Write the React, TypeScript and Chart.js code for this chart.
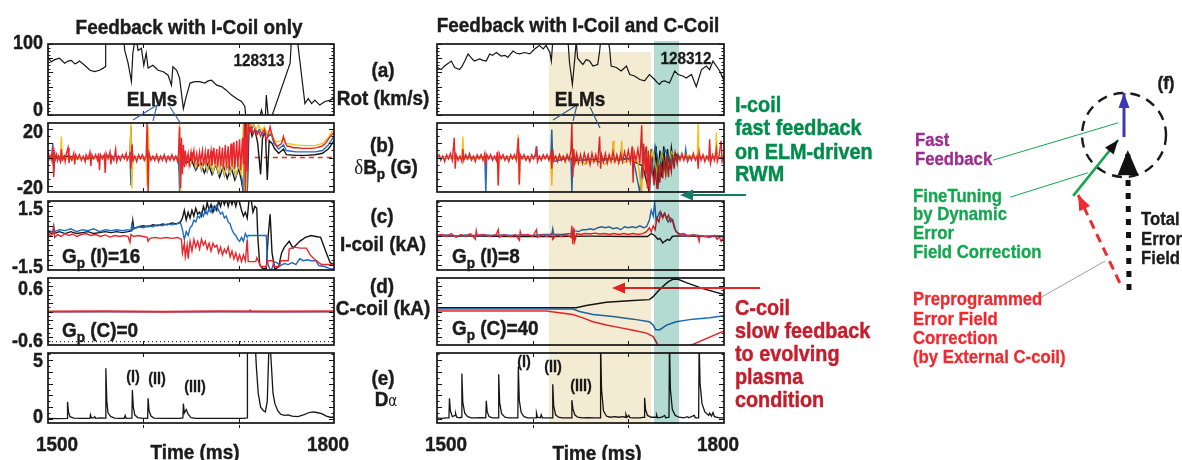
import React, { useEffect, useRef } from "react";
import { Chart, registerables } from "chart.js";

Chart.register(...registerables);

type Pt = [number, number];

// ---------- time axis ----------
const timeMin = 1500;
const timeMax = 1800;
const timeMajorTicks = [1600, 1700];
const timeTickLabels = ["1500", "1800"];
const timeAxisTitle = "Time (ms)";

// ---------- (a) rotation, km/s ----------
const rot128313: Pt[] = [
  [1500, 81], [1503.5, 75], [1507, 78], [1512, 80], [1517.5, 73], [1521, 76], [1524.5, 77], [1528, 72], [1530, 73],
  [1533, 76], [1538.5, 70], [1544, 63], [1549, 61], [1554, 63], [1558, 66], [1560, 68], [1560.5, 98], [1561, 112],
  [1579, 112], [1580.5, 91], [1584, 73], [1587.5, 47], [1589, 87], [1591, 104], [1593, 104], [1594.5, 91], [1598, 94],
  [1600.5, 70], [1603, 87], [1605, 66], [1610, 70], [1615.5, 63], [1621, 61], [1626, 56], [1629.5, 42], [1631, 68],
  [1635, 63], [1638, 52], [1642, 9], [1645, 26], [1649, 45], [1654, 47], [1659, 47], [1664.5, 45], [1668, 48],
  [1671.5, 49], [1677, 42], [1682, 40], [1687, 35], [1692.5, 28], [1698, 23], [1703, 19], [1706.5, 12], [1707.5, -3],
  [1722, -3], [1724, 7], [1725.5, -3], [1728, -3], [1729, 28], [1731, -3], [1734.5, -3], [1754, 73], [1755.5, 112],
  [1761, 112], [1769.5, 16], [1773, 23], [1776.5, 16], [1780, 21], [1785, 14], [1790.5, 19], [1796, 21], [1799, 23], [1800, 20],
];
const rot128312: Pt[] = [
  [1500, 67], [1504.5, 64], [1507, 68], [1510, 71], [1515, 76], [1518.5, 67], [1523.5, 64], [1526, 68], [1529, 76],
  [1532.5, 86], [1536, 80], [1539, 76], [1544.5, 79], [1548, 77], [1551.5, 76], [1555, 86], [1558, 84], [1562, 88],
  [1567, 83], [1571, 84], [1574, 81], [1579.5, 90], [1583, 87], [1586.5, 86], [1591.5, 88], [1597, 86], [1602, 93],
  [1607, 98], [1611, 93], [1614, 98], [1618, 88], [1619.5, 76], [1621, 104], [1637, 104], [1638.5, 74], [1641.5, 43],
  [1644, 79], [1645.5, 104], [1647, 80], [1650, 75], [1652.5, 71], [1656, 78], [1659.5, 76], [1663, 69], [1668, 71],
  [1670, 90], [1671, 104], [1679, 104], [1680.5, 93], [1682, 69], [1687.5, 67], [1692.5, 62], [1698, 69], [1701.5, 57],
  [1706.5, 55], [1712, 50], [1717, 48], [1722, 57], [1727.5, 50], [1730, 46], [1732.5, 43], [1735, 47], [1738, 48],
  [1743, 45], [1748.5, 62], [1752, 57], [1757, 55], [1760.5, 52], [1766, 57], [1771, 40], [1776.5, 64], [1781.5, 69],
  [1785, 64], [1788.5, 76], [1792, 69], [1795.5, 62], [1799.5, 50], [1800, 52],
];

// ---------- (b) dBp, G : shot 128313 ----------
const dBpRedL: Pt[] = [
  [1500, 0], [1501, 2], [1502, -1], [1503, 1], [1504, -2], [1505, 8], [1506, -14], [1507, 3], [1508, -1], [1509, 2],
  [1510, -2], [1511, 1], [1513, -3], [1514, 6], [1515, -2], [1517, 1], [1518, -3], [1519, 2], [1521, 7], [1522, -4],
  [1523, 1], [1525, -2], [1527, 3], [1528, -5], [1529, 2], [1531, -1], [1533, 2], [1535, -2], [1537, 1], [1539, -3],
  [1540, 2], [1542, -1], [1544, 4], [1545, -6], [1546, 2], [1548, -1], [1550, 2], [1552, -2], [1553, 3], [1554, -9],
  [1555, 2], [1557, -1], [1559, 2], [1560, -11], [1561, 3], [1563, -1], [1565, 4], [1566, -5], [1567, 1], [1569, -2],
  [1571, 6], [1572, -3], [1574, 1], [1576, -2], [1578, 2], [1580, -1], [1582, 3], [1583, -2], [1585, 1], [1586, 4],
  [1587, -8], [1588, 9], [1589, -2], [1591, 1], [1593, -3], [1595, 2], [1597, -1], [1599, 2], [1601, -2], [1603, 1],
  [1604, 26], [1605, -26], [1606, 3], [1608, -2], [1610, 1], [1612, -2], [1614, 2], [1616, -3], [1618, 1], [1620, -2],
  [1622, 2], [1624, -3], [1626, 1], [1628, -2], [1630, 2], [1632, -2], [1634, 1], [1636, -3], [1637, 4], [1638, 22],
  [1639, -22], [1640, 14], [1641, -12], [1642, 9], [1643, -7], [1644, 5], [1645, -4], [1647, 3], [1648, -5], [1650, 4],
  [1651, -3], [1653, 5], [1654, -4], [1656, 3], [1657, -5], [1659, 4], [1660, -3], [1662, 5], [1663, -6], [1665, 4],
  [1666, -5], [1668, 6], [1669, -4], [1671, 5], [1672, -6], [1674, 7], [1675, -5], [1677, 6], [1678, -7], [1680, 8],
  [1681, -6], [1683, 7], [1684, -8], [1686, 9], [1687, -7], [1689, 8], [1690, -9], [1692, 10], [1693, -6], [1695, 11],
  [1696, -8], [1698, 12], [1699, -7], [1701, 13], [1702, -9], [1704, 14], [1705, -5], [1706, 25], [1707, -25],
  [1708, 25], [1709, -10], [1710, 25], [1711, 18], [1713, 22], [1715, 17], [1717, 20], [1719, 16], [1721, 19],
  [1723, 15], [1725, 18], [1727, 20], [1729, 12], [1731, 16], [1733, 22], [1735, 16], [1737, 12], [1739, 9], [1741, 8],
  [1743, 9], [1745, 10], [1747, 15], [1749, 10], [1751, 8], [1753, 8], [1757, 7], [1762, 7], [1767, 6.5], [1772, 6.5],
  [1777, 6.5], [1782, 7], [1787, 8], [1791, 10], [1795, 14], [1800, 18],
];
const dBpYellowL: Pt[] = [
  [1500, 0], [1513, 0], [1514, 15], [1515, -1], [1540, 0], [1586, 0], [1587, 25], [1588, -22], [1589, 0], [1603, 0],
  [1604, -20], [1605, 22], [1606, 0], [1637, 0], [1638, 25], [1639, -25], [1640, 0], [1643, -3], [1646, 1], [1649, -5],
  [1652, 0], [1655, -7], [1658, -1], [1661, -8], [1664, -1], [1667, -9], [1670, -2], [1673, -10], [1676, -3],
  [1679, -11], [1682, -2], [1685, -12], [1688, -4], [1691, -11], [1694, -3], [1697, -13], [1700, -5], [1703, -12],
  [1705, 25], [1706, -25], [1708, -25], [1709, 25], [1712, 22], [1715, 24], [1718, 20], [1721, 23], [1724, 19],
  [1727, 22], [1730, 17], [1733, 20], [1736, 14], [1740, 11], [1745, 12], [1748, 13], [1750, 10], [1760, 9],
  [1770, 8.5], [1780, 8.5], [1788, 10], [1794, 14], [1800, 21],
];
const dBpBlueL: Pt[] = [
  [1500, 0], [1504, 1], [1505, 10], [1506, -10], [1507, 0], [1530, -1], [1560, 1], [1586, 0], [1587, -20], [1588, 10],
  [1589, 0], [1603, 0], [1604, -8], [1605, 5], [1606, 0], [1637, 0], [1638, -24], [1639, 10], [1640, 0], [1643, -4],
  [1646, 1], [1649, -6], [1652, 0], [1655, -8], [1658, -1], [1661, -9], [1664, -2], [1667, -10], [1670, -3],
  [1673, -11], [1676, -4], [1679, -12], [1682, -3], [1685, -13], [1688, -5], [1691, -12], [1694, -4], [1697, -14],
  [1700, -6], [1703, -13], [1705, -25], [1706, 25], [1707, -25], [1709, -25], [1710, 25], [1713, 20], [1716, 23],
  [1719, 18], [1722, 20], [1725, 16], [1728, 19], [1731, 15], [1734, 17], [1737, 10], [1742, 6], [1747, 9], [1750, 5],
  [1760, 4], [1770, 4], [1780, 4], [1788, 5], [1794, 9], [1800, 15],
];
const dBpBlackL: Pt[] = [
  [1500, 0], [1520, 1], [1540, -1], [1560, 1], [1586, 0], [1587, 22], [1588, -5], [1590, 0], [1637, 0], [1638, -10],
  [1640, 0], [1645, -4], [1650, -1], [1655, -9], [1660, -3], [1664, -11], [1668, -4], [1672, -12], [1676, -5],
  [1680, -14], [1684, -6], [1688, -15], [1692, -7], [1696, -16], [1700, -8], [1703, -17], [1705, -25], [1707, 25],
  [1709, -25], [1711, 25], [1714, 15], [1717, 20], [1720, 10], [1723, -12], [1725, 14], [1728, 18], [1730, -16],
  [1732, 12], [1735, 10], [1738, 6], [1742, 3], [1747, 6], [1750, 2], [1760, 1.5], [1770, 1.5], [1780, 2], [1788, 3],
  [1794, 6], [1800, 12],
];
const dBpZeroRef: Pt[] = [[1717, 0], [1800, 0]];

// ---------- (b) dBp, G : shot 128312 ----------
const dBpRedR: Pt[] = [
  [1500, 0], [1502, 2], [1504, -2], [1506, 1], [1508, -3], [1510, 2], [1512, -1], [1514, 3], [1516, -2], [1518, 14],
  [1519, -8], [1520, 2], [1522, -2], [1524, 1], [1526, -3], [1527, 6], [1528, -2], [1530, 2], [1532, -1], [1534, 3],
  [1536, -2], [1538, 1], [1540, -3], [1542, 2], [1544, -1], [1546, 2], [1548, -2], [1550, 3], [1551, -6], [1552, 2],
  [1554, -1], [1556, 2], [1558, -2], [1560, 1], [1562, -2], [1563, 4], [1564, -20], [1565, 3], [1567, -1], [1569, 2],
  [1571, -2], [1573, 1], [1575, -3], [1577, 2], [1579, -1], [1581, 2], [1583, -2], [1585, 14], [1586, -19], [1587, 2],
  [1589, -1], [1591, 2], [1593, -2], [1595, 1], [1597, -3], [1599, 2], [1601, -1], [1603, 3], [1604, 8], [1605, -3],
  [1607, 1], [1609, -2], [1611, 2], [1613, -1], [1615, 2], [1617, -2], [1619, 3], [1620, -8], [1621, 6], [1622, -2],
  [1624, 1], [1626, -3], [1628, 2], [1630, -2], [1632, 1], [1634, -3], [1636, 2], [1638, -2], [1640, 5], [1641, 25],
  [1642, -14], [1643, 6], [1644, -4], [1646, 3], [1648, -4], [1650, 2], [1652, -4], [1654, 3], [1656, -3], [1658, 2],
  [1660, -5], [1662, 3], [1664, -3], [1666, 2], [1668, -4], [1670, 15], [1671, -8], [1672, 2], [1674, -3], [1676, 3],
  [1678, -4], [1680, 2], [1682, -3], [1684, 4], [1686, -3], [1688, 2], [1690, -4], [1692, 3], [1694, -3], [1696, 4],
  [1698, -2], [1700, 5], [1702, -3], [1704, 8], [1705, -18], [1706, 4], [1708, -2], [1710, 6], [1712, -4], [1714, 23],
  [1715, -15], [1716, 10], [1718, -12], [1719, 8], [1720, -22], [1721, 5], [1722, -25], [1723, 2], [1725, -10],
  [1727, -20], [1728, -8], [1730, -22], [1731, -5], [1733, -18], [1734, -4], [1736, -15], [1737, -3], [1739, -12],
  [1740, 1], [1742, -14], [1743, -2], [1745, -10], [1746, 2], [1748, -8], [1749, 3], [1751, -4], [1752, 2], [1754, -2],
  [1756, 3], [1758, -2], [1760, 2], [1762, -3], [1764, 1], [1766, -2], [1768, 3], [1770, -2], [1772, 1], [1773, -8],
  [1774, 4], [1776, -2], [1778, 2], [1780, -3], [1782, 1], [1784, -2], [1785, 13], [1786, -4], [1788, 2], [1790, -2],
  [1792, 6], [1793, -3], [1795, 2], [1797, 12], [1798, -3], [1800, 1],
];
const dBpYellowR: Pt[] = [
  [1500, 0], [1526, 0], [1527, 15], [1528, -1], [1563, 0], [1564, -20], [1565, 0], [1584, 0], [1585, 16], [1586, -20],
  [1587, 0], [1619, 0], [1620, -20], [1621, 0], [1640, 0], [1641, 12], [1642, 0], [1645, -4], [1650, -1], [1655, -5],
  [1660, -2], [1665, -3], [1670, -1], [1675, -5], [1683, 0], [1684, 12], [1685, -3], [1692, 0], [1693, 12], [1694, -4],
  [1700, -2], [1710, -3], [1714, -25], [1716, 8], [1720, -15], [1725, 5], [1730, -10], [1735, 3], [1740, -12],
  [1745, 4], [1750, -2], [1760, 2], [1772, 0], [1773, 25], [1774, 0], [1791, 0], [1792, 18], [1793, 0], [1800, 2],
];
const dBpBlueR: Pt[] = [
  [1500, 0], [1550, 0], [1551, -25], [1552, 0], [1584, 0], [1585, 8], [1586, 0], [1603, 0], [1604, 8], [1605, 0],
  [1619, 0], [1620, 20], [1621, -3], [1640, 0], [1641, -25], [1642, 0], [1650, -2], [1660, -1], [1670, -3], [1680, -1],
  [1690, -2], [1705, 0], [1712, -25], [1714, -8], [1718, 5], [1722, -20], [1728, 8], [1732, -5], [1738, 6],
  [1744, -3], [1750, 1], [1759, 0], [1760, 6], [1761, 0], [1800, 0],
];
const dBpBlackR: Pt[] = [
  [1500, 0], [1600, 0], [1640, 0], [1641, -2], [1680, -1], [1700, -1], [1715, -6], [1722, -25], [1724, 6],
  [1727, -18], [1729, 8], [1731, -20], [1733, 5], [1735, -14], [1737, 8], [1739, -10], [1741, 6], [1743, -8],
  [1745, 7], [1747, -4], [1749, 3], [1752, 0], [1800, 0],
];

// ---------- (c) I-coil current, kA ----------
const iCoilRedL: Pt[] = [
  [1500, 0.05], [1503, 0], [1505, 0.1], [1506, 0.4], [1507, -0.1], [1510, 0.05], [1514, -0.05], [1518, 0.1], [1522, 0],
  [1526, 0.08], [1530, -0.05], [1535, 0.05], [1540, 0.1], [1545, 0], [1550, 0.05], [1555, -0.05], [1560, 0.03],
  [1565, -0.08], [1570, 0], [1575, -0.05], [1580, 0], [1584, -0.05], [1586, -0.35], [1587, 0.05], [1590, -0.05],
  [1595, 0], [1600, -0.05], [1604, -0.1], [1605, -0.3], [1607, -0.15], [1612, -0.1], [1618, -0.15], [1624, -0.1],
  [1630, -0.15], [1636, -0.1], [1640, -0.2], [1641, -0.9], [1643, -0.4], [1644, -1.1], [1646, -0.5], [1647, -1.2],
  [1649, -0.3], [1651, -0.8], [1653, -0.2], [1655, -0.6], [1657, -0.3], [1659, -0.7], [1661, -0.2], [1663, -0.5],
  [1665, -0.3], [1667, -0.7], [1669, -0.4], [1671, -0.8], [1673, -0.4], [1675, -0.6], [1677, -0.5], [1679, -0.9],
  [1681, -0.6], [1683, -1.0], [1685, -0.7], [1687, -0.9], [1689, -0.6], [1691, -1.1], [1693, -0.8], [1695, -1.2],
  [1697, -0.9], [1699, -1.3], [1701, -1.0], [1703, -1.35], [1705, -1.0], [1707, -1.3], [1709, -0.2], [1710, -1.35],
  [1718, -1.35], [1719, -1.15], [1721, -1.35], [1723, -1.6], [1729, -1.6], [1730, -1.3], [1736, -1.3], [1737, -1.6],
  [1743, -1.6], [1744, -1.3], [1752, -1.3], [1753, -0.7], [1758, -0.6], [1765, -0.65], [1771, -0.65], [1775, -1.0],
  [1779, -1.2], [1784, -1.4], [1787, -1.5], [1800, -1.5],
];
const iCoilBlueL: Pt[] = [
  [1500, 0.25], [1505, 0.2], [1506, 0.5], [1507, 0.2], [1512, 0.3], [1518, 0.25], [1524, 0.35], [1530, 0.2],
  [1536, 0.3], [1542, 0.25], [1548, 0.35], [1554, 0.2], [1560, 0.3], [1566, 0.25], [1572, 0.3], [1578, 0.25],
  [1584, 0.3], [1587, 0.25], [1588, 0.6], [1590, 0.35], [1595, 0.45], [1600, 0.4], [1605, 0.5], [1610, 0.45],
  [1615, 0.55], [1620, 0.5], [1625, 0.6], [1630, 0.55], [1635, 0.6], [1639, 0.65], [1641, 0.3], [1643, -0.2],
  [1645, 0.2], [1647, 0.0], [1649, 0.4], [1651, 0.5], [1653, 0.8], [1655, 0.7], [1657, 1.0], [1659, 0.9], [1661, 1.2],
  [1663, 1.0], [1665, 1.3], [1667, 1.1], [1669, 1.4], [1671, 1.2], [1673, 1.5], [1675, 1.3], [1677, 1.55],
  [1679, 1.3], [1681, 1.1], [1683, 1.2], [1685, 0.9], [1687, 1.0], [1689, 0.7], [1691, 0.6], [1693, 0.3], [1695, 0.1],
  [1697, 0.0], [1699, -0.2], [1701, -0.3], [1703, -0.1], [1705, -0.3], [1707, 0.1], [1709, -0.1], [1710, 0.0],
  [1729, 0.0], [1730, -1.3], [1731, -1.5], [1733, -1.8], [1735, -1.7], [1737, -1.35], [1740, -1.4], [1744, -1.55],
  [1748, -1.45], [1752, -1.5], [1756, -1.4], [1760, -1.5], [1764, -1.2], [1768, -1.3], [1772, -1.25], [1776, -1.3],
  [1781, -1.3], [1784, -1.55], [1790, -1.6], [1795, -1.7], [1800, -1.75],
];
const iCoilBlackL: Pt[] = [
  [1500, 0.15], [1506, 0.1], [1512, 0.2], [1518, 0.1], [1524, 0.2], [1530, 0.1], [1536, 0.15], [1542, 0.2],
  [1548, 0.1], [1554, 0.15], [1560, 0.2], [1566, 0.15], [1572, 0.2], [1578, 0.15], [1584, 0.2], [1588, 0.25],
  [1589, 0.75], [1590, 0.35], [1595, 0.45], [1600, 0.5], [1605, 0.45], [1610, 0.55], [1615, 0.5], [1620, 0.6],
  [1625, 0.55], [1630, 0.65], [1635, 0.6], [1639, 0.7], [1641, 0.9], [1643, 1.3], [1645, 0.8], [1647, 1.2], [1649, 0.9],
  [1651, 1.3], [1653, 1.0], [1655, 1.4], [1657, 1.1], [1659, 1.2], [1661, 1.0], [1663, 1.5], [1665, 1.2], [1667, 1.7],
  [1669, 1.3], [1671, 1.6], [1673, 1.2], [1675, 1.5], [1677, 1.3], [1679, 1.8], [1681, 1.5], [1683, 1.9], [1685, 1.6],
  [1687, 1.9], [1689, 1.5], [1691, 1.9], [1693, 1.6], [1695, 1.9], [1697, 1.5], [1699, 1.9], [1701, 1.7], [1703, 1.3],
  [1705, 1.0], [1707, 1.2], [1709, 0.9], [1711, 1.9], [1713, 1.9], [1715, 1.2], [1717, 1.5], [1719, 1.4], [1720, 0.0],
  [1722, -1.5], [1725, -1.7], [1729, -1.7], [1731, 0.0], [1733, 1.1], [1735, -0.9], [1738, -1.75], [1742, -1.6],
  [1745, -0.9], [1748, -0.6], [1753, -0.3], [1757, -0.65], [1760, -0.5], [1764, -0.3], [1770, -0.1], [1776, 0.0],
  [1781, -0.05], [1786, -0.1], [1789, -0.5], [1792, -0.9], [1796, -1.4], [1800, -1.5],
];
const iCoilRedR: Pt[] = [
  [1500, 0], [1505, 0.05], [1510, -0.05], [1515, 0.1], [1520, -0.1], [1525, 0.05], [1530, -0.05], [1535, 0.1],
  [1540, -0.2], [1541, 0.25], [1542, 0], [1548, 0.05], [1555, -0.05], [1562, 0.05], [1564, 0.3], [1565, -0.1],
  [1570, 0.05], [1576, -0.05], [1582, 0.05], [1586, -0.25], [1587, 0.2], [1588, 0], [1595, 0.05], [1600, -0.05],
  [1604, 0.3], [1605, -0.1], [1610, 0.05], [1615, -0.05], [1620, 0.1], [1621, -0.2], [1625, 0.05], [1630, -0.05],
  [1635, 0.05], [1640, -0.1], [1641, 0.5], [1642, -0.45], [1643, 0.4], [1644, -0.3], [1646, 0.1], [1650, 0.05],
  [1655, 0.1], [1660, 0.08], [1665, 0.12], [1670, 0.08], [1675, 0.1], [1680, 0.05], [1685, 0.1], [1690, 0.05],
  [1695, 0.1], [1700, 0.05], [1705, 0.1], [1710, 0.05], [1715, 0.1], [1719, 0.2], [1722, 0.4], [1724, 0.2],
  [1726, 0.5], [1728, 0.3], [1730, 0.9], [1732, 0.7], [1734, 1.2], [1736, 0.9], [1738, 1.15], [1740, 0.85],
  [1742, 1.05], [1744, 0.7], [1746, 0.8], [1748, 0.4], [1750, 0.2], [1753, 0.05], [1758, 0.1], [1763, -0.05],
  [1768, 0.05], [1773, -0.1], [1774, -0.3], [1775, 0], [1780, -0.05], [1785, -0.1], [1790, 0], [1793, -0.2],
  [1795, -0.05], [1797, -0.3], [1800, -0.05],
];
const iCoilBlueR: Pt[] = [
  [1500, 0], [1510, 0.03], [1520, -0.03], [1530, 0.03], [1540, 0], [1550, 0.03], [1560, 0], [1570, 0.03], [1580, 0],
  [1590, 0.03], [1600, 0], [1610, 0.05], [1620, 0.05], [1621, 0.35], [1622, 0.05], [1630, 0.05], [1640, 0.1],
  [1644, 0.25], [1648, 0.2], [1652, 0.3], [1656, 0.3], [1660, 0.35], [1664, 0.3], [1668, 0.4], [1672, 0.45],
  [1676, 0.4], [1680, 0.45], [1684, 0.35], [1688, 0.4], [1692, 0.3], [1696, 0.45], [1700, 0.4], [1704, 0.45],
  [1708, 0.4], [1712, 0.5], [1716, 0.4], [1719, 0.45], [1722, 0.8], [1724, 1.3], [1726, 1.0], [1727.5, 1.75],
  [1729, 0.8], [1731, 1.0], [1732.5, 1.2], [1735, 1.0], [1738, 1.15], [1741.5, 0.7], [1744, 0.9], [1746.5, 0.8],
  [1748, 0.5], [1750, 0.2], [1755, 0.05], [1760, 0], [1770, 0.03], [1780, -0.05], [1790, 0], [1800, -0.03],
];
const iCoilBlackR: Pt[] = [
  [1500, -0.03], [1540, -0.03], [1580, -0.05], [1620, -0.05], [1660, -0.03], [1700, -0.05], [1720, -0.05],
  [1724, 0.1], [1727.5, 0], [1731, -0.2], [1733, -0.15], [1736, -0.38], [1738, -0.3], [1741, -0.2], [1743, -0.25],
  [1746, -0.05], [1750, -0.02], [1760, -0.03], [1800, -0.05],
];

// ---------- (d) C-coil current, kA ----------
const cCoilRedL: Pt[] = [[1500, 0], [1560, 0.005], [1620, -0.005], [1680, 0.005], [1740, 0], [1800, 0.005]];
const cCoilBlueL: Pt[] = [[1500, -0.01], [1711, -0.01], [1712, 0.03], [1713, -0.01], [1800, -0.01]];
const cCoilRefL: Pt[] = [[1500, -0.71], [1800, -0.71]];
const cCoilBlackR: Pt[] = [
  [1500, 0.09], [1645.5, 0.09], [1656, 0.14], [1677, 0.22], [1705, 0.26], [1722, 0.28], [1726, 0.35], [1731, 0.48],
  [1736, 0.59], [1741.5, 0.7], [1746.5, 0.76], [1752, 0.76], [1760.5, 0.68], [1778, 0.54], [1800, 0.4],
];
const cCoilBlueR: Pt[] = [
  [1500, 0.06], [1642, 0.06], [1649, 0], [1663, -0.07], [1684, -0.12], [1705, -0.18], [1722, -0.24], [1726, -0.32],
  [1728.5, -0.43], [1733, -0.43], [1740, -0.32], [1750, -0.24], [1767.5, -0.18], [1785, -0.15], [1800, -0.1],
];
const cCoilRedR: Pt[] = [
  [1500, 0.01], [1614, 0.01], [1628, -0.03], [1642, -0.07], [1652.5, -0.15], [1663, -0.24], [1677, -0.32],
  [1691, -0.38], [1705, -0.44], [1719, -0.51], [1726, -0.59], [1730, -0.75], [1732, -1.0], [1764, -1.0],
  [1766, -0.79], [1800, -0.46],
];

// ---------- (e) D-alpha ----------
const dAlphaL: Pt[] = [
  [1500, 0.05], [1510, 0.03], [1520, 0.05], [1520.5, 1.45], [1521.5, 0.6], [1523, 0.2], [1527, 0.08], [1535, 0.05],
  [1544, 0.05], [1544.5, 0.35], [1545.5, 0.1], [1548, 0.1], [1549, 0.2], [1550, 0.05], [1555, 0.1], [1560, 0.08],
  [1560.7, 4.3], [1561.7, 1.5], [1563, 0.5], [1566, 0.2], [1570, 0.08], [1575, 0.05], [1580, 0.06], [1581, 0.3],
  [1582, 0.05], [1588, 0.08], [1588.5, 2.45], [1589.5, 1.0], [1591, 0.35], [1594, 0.12], [1600, 0.06], [1604.5, 0.06],
  [1605, 1.75], [1606, 0.7], [1608, 0.25], [1611, 0.08], [1620, 0.06], [1630, 0.05], [1638, 0.06], [1641.5, 0.1],
  [1642, 1.3], [1643, 0.5], [1645, 0.8], [1647, 0.4], [1650, 0.12], [1655, 0.06], [1665, 0.05], [1680, 0.06],
  [1695, 0.05], [1705, 0.06], [1709, 0.1], [1709.2, 7], [1717, 7], [1718.5, 4.5], [1720.5, 2.2], [1723, 1.0],
  [1726, 0.7], [1728, 0.6], [1730, 1.5], [1731.5, 5.5], [1732.5, 7], [1734, 5], [1736, 2.2], [1738, 1.3], [1741, 0.7],
  [1744, 0.4], [1748, 0.3], [1752, 0.35], [1756, 0.25], [1762, 0.2], [1768, 0.35], [1774, 0.55], [1778, 0.6],
  [1782, 0.55], [1787, 0.45], [1792, 0.25], [1796, 0.15], [1800, 0.15],
];
const dAlphaR: Pt[] = [
  [1500, 0.1], [1505, 0.05], [1510, 0.1], [1512.5, 0.1], [1513, 1.75], [1514, 0.7], [1516, 0.2], [1519, 0.3],
  [1519.5, 0.45], [1520.5, 0.15], [1524, 0.1], [1525.5, 0.15], [1526, 3.85], [1527, 1.4], [1529, 0.5], [1532, 0.2],
  [1536, 0.1], [1540, 0.1], [1545, 0.12], [1551, 0.1], [1551.5, 1.55], [1552.5, 0.6], [1554.5, 0.2], [1558, 0.1],
  [1564, 0.1], [1564.5, 3.8], [1565.5, 1.4], [1567.5, 0.45], [1571, 0.15], [1575, 0.1], [1580, 0.1], [1584.5, 0.1],
  [1585, 4.45], [1586, 1.6], [1588, 0.55], [1591, 0.2], [1595, 0.1], [1600, 0.1], [1603.5, 0.1], [1604, 0.5],
  [1605, 0.15], [1608, 0.1], [1609, 0.35], [1610, 0.1], [1615, 0.1], [1620.5, 0.1], [1621, 2.95], [1622, 1.1],
  [1624, 0.35], [1627, 0.15], [1631, 0.1], [1636, 0.1], [1640.5, 0.1], [1641, 1.6], [1642, 0.9], [1644, 0.35],
  [1647, 0.15], [1652, 0.1], [1658, 0.12], [1664, 0.1], [1670.5, 0.1], [1671, 6.5], [1672, 2.5], [1674, 0.7],
  [1677, 0.25], [1681, 0.15], [1686, 0.2], [1690, 0.15], [1694, 0.2], [1697, 0.15], [1697.5, 0.4], [1698.5, 0.15],
  [1700.5, 0.3], [1701.5, 0.12], [1706, 0.1], [1712, 0.1], [1716.5, 0.15], [1717, 1.8], [1718, 0.8], [1720, 0.3],
  [1724, 0.15], [1729, 0.15], [1729.5, 0.35], [1730.5, 0.1], [1735, 0.15], [1738, 0.3], [1739, 0.1], [1742.5, 0.15],
  [1743, 6.5], [1744, 2.5], [1746, 0.8], [1749, 0.3], [1753, 0.15], [1758, 0.1], [1762, 0.2], [1763, 0.1],
  [1769, 0.3], [1770, 0.1], [1773.5, 0.1], [1774, 6.5], [1775, 3], [1777, 1.3], [1780, 0.6], [1784, 0.3], [1785, 0.5],
  [1787, 0.25], [1788.5, 0.55], [1790, 0.2], [1795, 0.1], [1800, 0.1],
];

// ---------- (f) vector diagram (units of the circle radius) ----------
const correctionCircleRadius = 1;
const fastFeedbackVec: Pt[] = [[0, -0.05], [0, 1.0]];
const fineTuningVec: Pt[] = [[-1.21, -1.45], [-0.14, -0.12]];
const preprogrammedVec: Pt[] = [[-0.1, -3.52], [-1.09, -1.43]];
const totalFieldVec: Pt[] = [[0.12, -3.69], [0.09, -0.36]];
const fastLeader: Pt[] = [[-3.12, -0.6], [-0.14, 0.29]];
const fineLeader: Pt[] = [[-2.71, -1.48], [-0.86, -0.9]];
const preLeader: Pt[] = [[-2.0, -3.88], [-0.45, -3.0]];

// ---------- styling ----------
const BLACK = "#161616";
const BLUE = "#1f6bbf";
const YELLOW = "#f6c21c";
const RED = "#e8262b";
const FONT = "'Liberation Sans', Arial, Helvetica, sans-serif";

type Series = { data: Pt[]; color: string; width?: number; dash?: number[] };
type PanelProps = {
  x: number; y: number; w: number; h: number;
  yMin: number; yMax: number; major: number; minor: number;
  series: Series[]; outward?: boolean;
};

const PAD = 6;

function framePlugin(major: number, minor: number, outward: boolean) {
  return {
    id: "frame",
    afterDatasetsDraw(chart: any) {
      const { ctx, chartArea: a, scales } = chart;
      const ys = scales.y;
      const xs = scales.x;
      ctx.save();
      ctx.strokeStyle = "#141414";
      ctx.lineWidth = 1;
      const n0 = Math.ceil(ys.min / minor - 1e-9);
      const n1 = Math.floor(ys.max / minor + 1e-9);
      for (let n = n0; n <= n1; n++) {
        const v = n * minor;
        const r = v / major;
        const isMajor = Math.abs(r - Math.round(r)) < 1e-6;
        const len = isMajor ? 5 : 2.5;
        const py = Math.round(ys.getPixelForValue(v)) + 0.5;
        ctx.beginPath();
        ctx.moveTo(a.left, py);
        ctx.lineTo(a.left + len, py);
        ctx.moveTo(a.right, py);
        ctx.lineTo(a.right - len, py);
        ctx.stroke();
      }
      for (const t of timeMajorTicks) {
        const px = Math.round(xs.getPixelForValue(t)) + 0.5;
        ctx.beginPath();
        ctx.moveTo(px, a.top);
        ctx.lineTo(px, a.top + 4);
        ctx.moveTo(px, a.bottom);
        ctx.lineTo(px, a.bottom - 4);
        if (outward) {
          ctx.moveTo(px, a.bottom + 2);
          ctx.lineTo(px, a.bottom + 5);
        }
        ctx.stroke();
      }
      ctx.lineWidth = 1.7;
      ctx.strokeRect(a.left, a.top, a.right - a.left, a.bottom - a.top);
      ctx.restore();
    },
  };
}

function Panel(p: PanelProps) {
  const ref = useRef<HTMLCanvasElement>(null);
  useEffect(() => {
    const chart = new Chart(ref.current as HTMLCanvasElement, {
      type: "scatter",
      data: {
        datasets: p.series.map((s) => ({
          data: s.data.map(([x, y]) => ({ x, y })),
          showLine: true,
          borderColor: s.color,
          backgroundColor: s.color,
          borderWidth: s.width ?? 1.2,
          borderDash: s.dash ?? [],
          pointRadius: 0,
          tension: 0,
          clip: 0,
        })),
      },
      options: {
        animation: false,
        responsive: false,
        devicePixelRatio: 1,
        events: [],
        layout: { padding: PAD },
        plugins: { legend: { display: false }, tooltip: { enabled: false } },
        scales: {
          x: { type: "linear", min: timeMin, max: timeMax, display: false },
          y: { type: "linear", min: p.yMin, max: p.yMax, display: false },
        },
      } as any,
      plugins: [framePlugin(p.major, p.minor, !!p.outward)],
    });
    return () => chart.destroy();
  }, []);
  return (
    <canvas
      ref={ref}
      width={p.w + 2 * PAD}
      height={p.h + 2 * PAD}
      style={{ position: "absolute", left: p.x - PAD, top: p.y - PAD }}
    />
  );
}

// arrow heads and the dashed circle for the vector diagram
const diagramPlugin = {
  id: "diagram",
  beforeDatasetsDraw(chart: any) {
    const { ctx, scales } = chart;
    const cx = scales.x.getPixelForValue(0);
    const cy = scales.y.getPixelForValue(0);
    const rx = scales.x.getPixelForValue(correctionCircleRadius) - cx;
    const ry = cy - scales.y.getPixelForValue(correctionCircleRadius);
    ctx.save();
    ctx.strokeStyle = "#1a1a1a";
    ctx.lineWidth = 2.4;
    ctx.setLineDash([10, 7]);
    ctx.beginPath();
    ctx.ellipse(cx, cy, rx, ry, 0, 0, Math.PI * 2);
    ctx.stroke();
    ctx.restore();
  },
  afterDatasetsDraw(chart: any) {
    const { ctx, scales } = chart;
    chart.data.datasets.forEach((ds: any) => {
      if (!ds.head) return;
      const pts = ds.data;
      const a = pts[pts.length - 2];
      const b = pts[pts.length - 1];
      const ax = scales.x.getPixelForValue(a.x);
      const ay = scales.y.getPixelForValue(a.y);
      const bx = scales.x.getPixelForValue(b.x);
      const by = scales.y.getPixelForValue(b.y);
      const L = Math.hypot(bx - ax, by - ay);
      const dx = (bx - ax) / L;
      const dy = (by - ay) / L;
      const { len, width, color } = ds.head;
      const baseX = bx - dx * len;
      const baseY = by - dy * len;
      ctx.save();
      ctx.fillStyle = color;
      ctx.beginPath();
      ctx.moveTo(bx, by);
      ctx.lineTo(baseX - dy * width / 2, baseY + dx * width / 2);
      ctx.lineTo(baseX + dy * width / 2, baseY - dx * width / 2);
      ctx.closePath();
      ctx.fill();
      ctx.restore();
    });
  },
};

function Diagram() {
  const ref = useRef<HTMLCanvasElement>(null);
  useEffect(() => {
    const line = (d: Pt[], color: string, width: number, dash: number[] = [], head?: any) => ({
      data: d.map(([x, y]) => ({ x, y })),
      showLine: true,
      borderColor: color,
      borderWidth: width,
      borderDash: dash,
      borderCapStyle: "butt",
      pointRadius: 0,
      clip: false,
      head,
    });
    const chart = new Chart(ref.current as HTMLCanvasElement, {
      type: "scatter",
      data: {
        datasets: [
          line(fastFeedbackVec, "#3a3ab4", 3, [], { len: 15, width: 11, color: "#3a3ab4" }),
          line(fineTuningVec, "#14a64e", 2.6, [], { len: 14, width: 11, color: "#111" }),
          line(totalFieldVec, "#111", 5, [6, 7], { len: 25, width: 21, color: "#111" }),
          line(preprogrammedVec, "#ee2a30", 3, [9, 6], { len: 15, width: 12, color: "#ee2a30" }),
          line(fastLeader, "#14a64e", 1, []),
          line(fineLeader, "#14a64e", 1, []),
          line(preLeader, "#a0a0a0", 1, []),
        ] as any,
      },
      options: {
        animation: false,
        responsive: false,
        devicePixelRatio: 1,
        events: [],
        layout: { padding: 0 },
        plugins: { legend: { display: false }, tooltip: { enabled: false } },
        scales: {
          x: { type: "linear", min: -5.333, max: 1.381, display: false },
          y: { type: "linear", min: -3.929, max: 1.786, display: false },
        },
      } as any,
      plugins: [diagramPlugin],
    });
    return () => chart.destroy();
  }, []);
  return <canvas ref={ref} width={282} height={240} style={{ position: "absolute", left: 900, top: 60 }} />;
}

type TxtProps = {
  x: number; y: number; size?: number; color?: string;
  align?: "left" | "center" | "right"; sx?: number; children: React.ReactNode;
};
function Txt({ x, y, size = 21, color = "#1c1c1c", align = "center", sx = 0.9, children }: TxtProps) {
  const tx = align === "center" ? "-50%" : align === "right" ? "-100%" : "0";
  const ox = align === "center" ? "50%" : align === "right" ? "100%" : "0";
  return (
    <div
      style={{
        position: "absolute", left: x, top: y, whiteSpace: "nowrap",
        transform: `translate(${tx}, -50%) scaleX(${sx})`, transformOrigin: `${ox} 50%`,
        fontFamily: FONT, fontWeight: 700, fontSize: size, lineHeight: 1, color,
        WebkitTextStroke: `${size >= 19 ? 0.45 : 0.3}px ${color}`,
      }}
    >
      {children}
    </div>
  );
}
const Sub = ({ children }: { children: React.ReactNode }) => (
  <span style={{ fontSize: "0.72em", position: "relative", top: "0.3em" }}>{children}</span>
);

const LX = 48, LW = 286, RX = 437, RW = 287;
const rows = [
  { top: 44, h: 71, yMin: 0, yMax: 100, major: 20, minor: 5 },
  { top: 123, h: 69, yMin: -24.6, yMax: 24.6, major: 10, minor: 5 },
  { top: 201, h: 69, yMin: -1.78, yMax: 1.78, major: 0.5, minor: 0.25 },
  { top: 278, h: 67, yMin: -0.79, yMax: 0.79, major: 0.2, minor: 0.1 },
  { top: 353, h: 70, yMin: -0.34, yMax: 5.6, major: 1, minor: 0.5 },
];
const leftSeries: Series[][] = [
  [{ data: rot128313, color: BLACK, width: 1.2 }],
  [
    { data: dBpRedL, color: RED, width: 1.4 },
    { data: dBpYellowL, color: YELLOW, width: 1.4 },
    { data: dBpBlueL, color: BLUE, width: 1.4 },
    { data: dBpBlackL, color: BLACK, width: 1.4 },
    { data: dBpZeroRef, color: RED, width: 1.3, dash: [5, 4] },
  ],
  [
    { data: iCoilRedL, color: RED, width: 1.4 },
    { data: iCoilBlueL, color: BLUE, width: 1.4 },
    { data: iCoilBlackL, color: BLACK, width: 1.4 },
  ],
  [
    { data: cCoilRedL, color: RED, width: 2 },
    { data: cCoilBlueL, color: BLUE, width: 1.4 },
    { data: cCoilRefL, color: "#333", width: 1.2, dash: [1, 3] },
  ],
  [{ data: dAlphaL, color: BLACK, width: 1.3 }],
];
const rightSeries: Series[][] = [
  [{ data: rot128312, color: BLACK, width: 1.2 }],
  [
    { data: dBpRedR, color: RED, width: 1.4 },
    { data: dBpYellowR, color: YELLOW, width: 1.4 },
    { data: dBpBlueR, color: BLUE, width: 1.4 },
    { data: dBpBlackR, color: BLACK, width: 1.4 },
  ],
  [
    { data: iCoilRedR, color: RED, width: 1.4 },
    { data: iCoilBlueR, color: BLUE, width: 1.4 },
    { data: iCoilBlackR, color: BLACK, width: 1.4 },
  ],
  [
    { data: cCoilRedR, color: RED, width: 1.5 },
    { data: cCoilBlueR, color: BLUE, width: 1.5 },
    { data: cCoilBlackR, color: BLACK, width: 1.5 },
  ],
  [{ data: dAlphaR, color: BLACK, width: 1.3 }],
];

const GREEN_NOTE = "#008c4b";
const RED_NOTE = "#c41e2d";
const MAGENTA = "#9c2c8e";
const F_GREEN = "#14a64e";
const F_RED = "#ee2a30";

export default function App() {
  return (
    <div
      style={{
        position: "fixed", left: 0, top: 0, width: 1182, height: 460, overflow: "hidden",
        background: "#fff", isolation: "isolate",
      }}
    >
      {rows.map((r, i) => (
        <React.Fragment key={i}>
          <Panel x={LX} y={r.top} w={LW} h={r.h} yMin={r.yMin} yMax={r.yMax} major={r.major} minor={r.minor}
            series={leftSeries[i]} outward={i === 4} />
          <Panel x={RX} y={r.top} w={RW} h={r.h} yMin={r.yMin} yMax={r.yMax} major={r.major} minor={r.minor}
            series={rightSeries[i]} outward={i === 4} />
        </React.Fragment>
      ))}
      <Diagram />

      <svg width={1182} height={460} style={{ position: "absolute", left: 0, top: 0 }}>
        <g stroke="#3062aa" strokeWidth={1.2} fill="none">
          <line x1={157} y1={105} x2={133} y2={120} />
          <line x1={157} y1={105} x2={153} y2={121} />
          <line x1={170} y1={107} x2={181} y2={124} />
          <line x1={577} y1={105} x2={553} y2={120} />
          <line x1={577} y1={105} x2={573} y2={121} />
          <line x1={590} y1={107} x2={600} y2={128} />
        </g>
        <line x1={690} y1={195} x2={746} y2={195} stroke="#17796c" strokeWidth={2.2} />
        <polygon points="680,195 693,189.5 693,200.5" fill="#17796c" />
        <line x1={622} y1={288} x2={760} y2={288} stroke="#e8262a" strokeWidth={2.2} />
        <polygon points="612,288 625,282.5 625,293.5" fill="#e8262a" />
      </svg>

      {/* column titles */}
      <Txt x={189} y={26}>Feedback with I-Coil only</Txt>
      <Txt x={578} y={24}>Feedback with I-Coil and C-Coil</Txt>

      {/* y tick labels of the left column */}
      <Txt x={43} y={42} size={20} align="right">100</Txt>
      <Txt x={43} y={109} size={20} align="right">0</Txt>
      <Txt x={43} y={131} size={20} align="right">20</Txt>
      <Txt x={43} y={187} size={20} align="right">-20</Txt>
      <Txt x={43} y={208} size={20} align="right">1.5</Txt>
      <Txt x={43} y={266} size={20} align="right">-1.5</Txt>
      <Txt x={43} y={288} size={20} align="right">0.6</Txt>
      <Txt x={43} y={340} size={20} align="right">-0.6</Txt>
      <Txt x={43} y={360} size={20} align="right">5</Txt>
      <Txt x={43} y={416} size={20} align="right">0</Txt>

      {/* panel names */}
      <Txt x={383} y={69}>(a)</Txt>
      <Txt x={383} y={97}>Rot (km/s)</Txt>
      <Txt x={382} y={144}>(b)</Txt>
      <Txt x={386} y={167}>
        <span style={{ fontFamily: "'Liberation Serif', serif", fontWeight: 400, WebkitTextStroke: "0px" }}>δ</span>B<Sub>p</Sub> (G)
      </Txt>
      <Txt x={382} y={215}>(c)</Txt>
      <Txt x={383} y={243}>I-coil (kA)</Txt>
      <Txt x={382} y={285}>(d)</Txt>
      <Txt x={383} y={307}>C-coil (kA)</Txt>
      <Txt x={383} y={377}>(e)</Txt>
      <Txt x={386} y={399}>
        D<span style={{ fontFamily: "'DejaVu Sans', sans-serif", fontWeight: 400, fontSize: "0.72em", WebkitTextStroke: "0px" }}>α</span>
      </Txt>

      {/* in-panel annotations */}
      <Txt x={259} y={60} size={17}>128313</Txt>
      <Txt x={686} y={58} size={17}>128312</Txt>
      <Txt x={152} y={98}>ELMs</Txt>
      <Txt x={580} y={98}>ELMs</Txt>
      <Txt x={62} y={255} align="left">G<Sub>p</Sub> (I)=16</Txt>
      <Txt x={62} y={329} align="left">G<Sub>p</Sub> (C)=0</Txt>
      <Txt x={452} y={255} align="left">G<Sub>p</Sub> (I)=8</Txt>
      <Txt x={452} y={327} align="left">G<Sub>p</Sub> (C)=40</Txt>
      <Txt x={133} y={377} size={16}>(I)</Txt>
      <Txt x={157} y={379} size={16}>(II)</Txt>
      <Txt x={195} y={387} size={16}>(III)</Txt>
      <Txt x={524} y={362} size={16}>(I)</Txt>
      <Txt x={553} y={367} size={16}>(II)</Txt>
      <Txt x={581} y={386} size={16}>(III)</Txt>

      {/* time axes */}
      <Txt x={57} y={443}>{timeTickLabels[0]}</Txt>
      <Txt x={195} y={451}>{timeAxisTitle}</Txt>
      <Txt x={328} y={443}>{timeTickLabels[1]}</Txt>
      <Txt x={446} y={443}>{timeTickLabels[0]}</Txt>
      <Txt x={597} y={452}>{timeAxisTitle}</Txt>
      <Txt x={718} y={443}>{timeTickLabels[1]}</Txt>

      {/* side notes */}
      <Txt x={735} y={105} size={22} align="left" color={GREEN_NOTE}>I-coil</Txt>
      <Txt x={735} y={128} size={22} align="left" color={GREEN_NOTE}>fast feedback</Txt>
      <Txt x={735} y={152} size={22} align="left" color={GREEN_NOTE}>on ELM-driven</Txt>
      <Txt x={735} y={174} size={22} align="left" color={GREEN_NOTE}>RWM</Txt>
      <Txt x={735} y={308} size={22} align="left" color={RED_NOTE}>C-coil</Txt>
      <Txt x={735} y={331} size={22} align="left" color={RED_NOTE}>slow feedback</Txt>
      <Txt x={735} y={354} size={22} align="left" color={RED_NOTE}>to evolving</Txt>
      <Txt x={735} y={377} size={22} align="left" color={RED_NOTE}>plasma</Txt>
      <Txt x={735} y={400} size={22} align="left" color={RED_NOTE}>condition</Txt>

      {/* (f) labels */}
      <Txt x={1166} y={82} size={19}>(f)</Txt>
      <Txt x={915} y={140} size={18} sx={0.93} align="left" color={MAGENTA}>Fast</Txt>
      <Txt x={915} y={159} size={18} sx={0.93} align="left" color={MAGENTA}>Feedback</Txt>
      <Txt x={913} y={196} size={18} sx={0.93} align="left" color={F_GREEN}>FineTuning</Txt>
      <Txt x={913} y={214} size={18} sx={0.93} align="left" color={F_GREEN}>by Dynamic</Txt>
      <Txt x={913} y={233} size={18} sx={0.93} align="left" color={F_GREEN}>Error</Txt>
      <Txt x={913} y={252} size={18} sx={0.93} align="left" color={F_GREEN}>Field Correction</Txt>
      <Txt x={913} y={299} size={18} sx={0.93} align="left" color={F_RED}>Preprogrammed</Txt>
      <Txt x={913} y={319} size={18} sx={0.93} align="left" color={F_RED}>Error Field</Txt>
      <Txt x={913} y={338} size={18} sx={0.93} align="left" color={F_RED}>Correction</Txt>
      <Txt x={913} y={357} size={18} sx={0.93} align="left" color={F_RED}>(by External C-coil)</Txt>
      <Txt x={1141} y={219} size={18} sx={0.93} align="left">Total</Txt>
      <Txt x={1141} y={239} size={18} sx={0.93} align="left">Error</Txt>
      <Txt x={1141} y={258} size={18} sx={0.93} align="left">Field</Txt>

      {/* highlighted time windows (multiplied over the traces) */}
      <div style={{ position: "absolute", left: 549, top: 52, width: 102, height: 372, background: "#f4ebd3", mixBlendMode: "multiply", pointerEvents: "none" }} />
      <div style={{ position: "absolute", left: 654, top: 41, width: 25, height: 383, background: "#b3dbd1", mixBlendMode: "multiply", pointerEvents: "none" }} />
    </div>
  );
}
